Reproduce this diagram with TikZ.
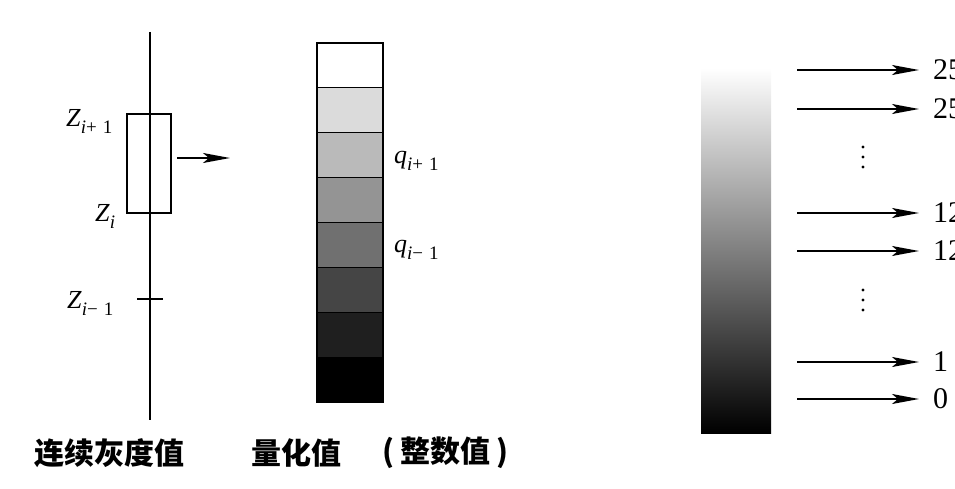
\documentclass[tikz,border=0pt]{standalone}
\usepackage{fontspec}
\setmainfont{Liberation Serif}
\newfontfamily\cjk{Noto Sans CJK SC}
\usetikzlibrary{arrows.meta,positioning}

\newcommand{\idx}[1]{\raisebox{-7pt}{\fontsize{19}{19}\selectfont #1}}

\tikzset{
	axis/.style={line width=1.6pt},
	cell/.style={draw, line width=1.2pt, minimum width=66pt, minimum height=44.9pt, inner sep=0pt},
	map/.style={line width=1.6pt, -{Stealth[length=27pt,width=10pt,inset=6pt]}},
	zlabel/.style={font=\fontsize{26}{26}\selectfont, inner sep=0pt, anchor=base west},
	level/.style={font=\fontsize{30}{30}\selectfont, inner sep=0pt, anchor=west},
	caption/.style={font=\cjk\bfseries\fontsize{30}{30}\selectfont, inner sep=0pt}
}

\begin{document}
\begin{tikzpicture}[x=1pt, y=-1pt]
	\useasboundingbox (0,0) rectangle (955,489);
	\clip (0,0) rectangle (955,489);

	% continuous axis
	\coordinate (top) at (150,32);
	\coordinate (bottom) at (150,420);
	\draw[axis] (top) -- (bottom);
	\node[draw, axis, minimum width=44pt, minimum height=99pt] (win) at (149,163.5) {};
	\draw[axis] (137,299) -- (163,299);
	\coordinate (a) at (177,158);
	\coordinate (b) at (230,158);
	\draw[map] (a) -- (b);

	\node[zlabel] (z2) at (66,127) {\textit{Z}\idx{\textit{i}+\hspace{6pt}1}};
	\node[zlabel] (z1) at (95,221) {\textit{Z}\idx{\textit{i}}};
	\node[zlabel] (z0) at (67,308) {\textit{Z}\idx{\textit{i}−\hspace{6pt}1}};

	% quantized levels
	\foreach \g [count=\k from 0] in {0,14,27,42,56,73,88,100}
		\node[cell, fill=black!\g] (c\k) at (350,65.4+\k*44.9) {};
	\node[zlabel] (q2) at (394,164) {\textit{q}\idx{\textit{i}+\hspace{6pt}1}};
	\node[zlabel] (q0) at (394,252) {\textit{q}\idx{\textit{i}−\hspace{6pt}1}};

	% gray ramp and integer values
	\shade[top color=white, bottom color=black] (701,68) rectangle (771,433);
	\foreach \y/\v [count=\k] in {70/255, 109/254, 213/128, 251/127, 362/1, 399/0} {
		\coordinate (s\k) at (797,\y);
		\node[level] (v\k) at (933,\y) {\v};
		\draw[map, shorten >=14pt] (s\k) -- (v\k.west);
	}
	\foreach \y in {147,157,167,290,300,310}
		\fill (863,\y) circle (1.6pt);

	% captions
	\node[caption] (t1) at (109,453) {连续灰度值};
	\node[caption] (t2) at (296,453) {量化值};
	\node[caption] (t3) at (445,453) {(\hspace{6pt}整数值\hspace{6pt})};
\end{tikzpicture}
\end{document}
